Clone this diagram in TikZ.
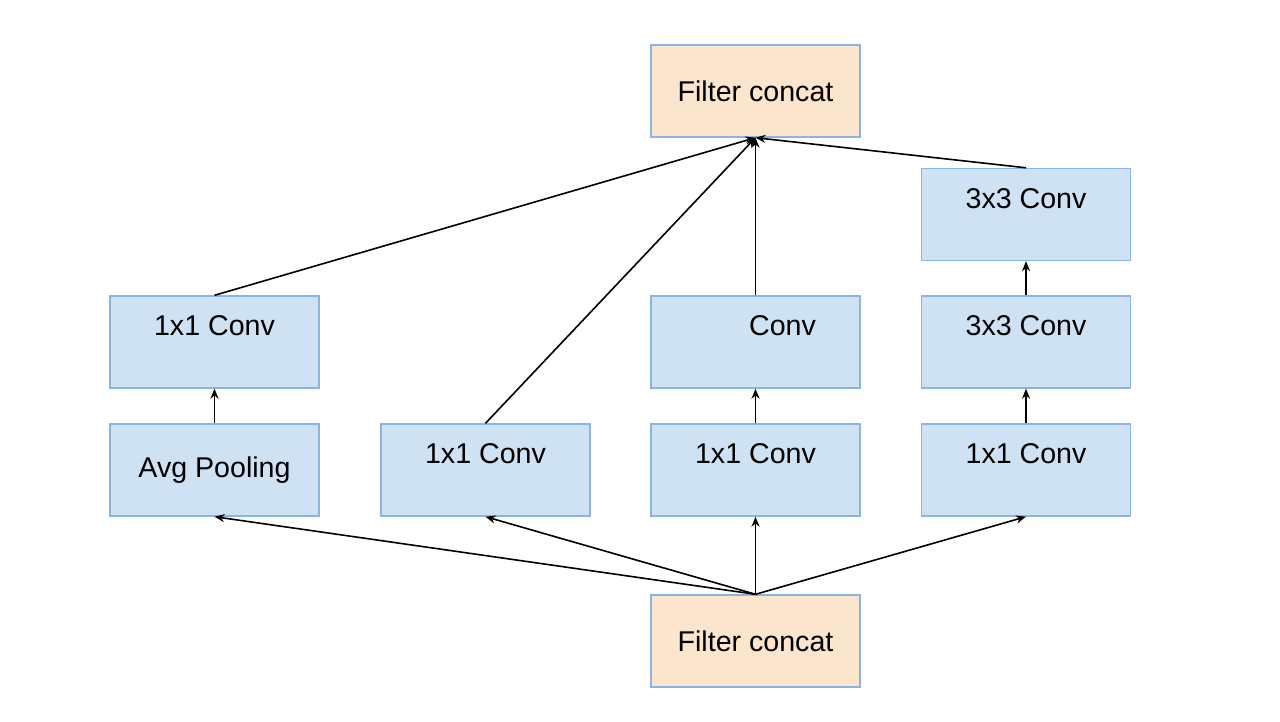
\documentclass[tikz,border=0pt]{standalone}
\usepackage{fontspec}
\setmainfont{Liberation Sans}
\usepackage{xcolor}
\usetikzlibrary{arrows.meta}

\definecolor{convblue}{HTML}{CFE2F3}
\definecolor{edgeblue}{HTML}{8DB3E2}
\definecolor{concatpeach}{HTML}{FCE5CD}

\begin{document}
\begin{tikzpicture}[x=0.5pt, y=-0.5pt,
  box/.style={rectangle, minimum width=104.5pt, minimum height=46pt, text centered, align=center, draw=edgeblue, line width=0.7pt, font=\fontsize{14.3}{16}\selectfont},
  conv/.style={box, fill=convblue},
  concat/.style={box, fill=concatpeach},
  link/.style={-{Stealth[length=5pt, width=4pt]}, line width=0.8pt}]
\useasboundingbox (0,0) rectangle (1280,722);

\node (top) [concat] at (755.5,91) {Filter concat};
\node (bottom) [concat] at (755.5,641) {Filter concat};

\node (pool) [conv] at (214.5,470) {Avg Pooling};
\node (poolconv) [conv] at (214.5,342) {1x1 Conv\\\mbox{}};

\node (single) [conv] at (485.5,470) {1x1 Conv\\\mbox{}};

\node (reduce) [conv] at (755.5,470) {1x1 Conv\\\mbox{}};
\node (mid) [conv] at (755.5,342) {\phantom{1x1} Conv\\\mbox{}};

\node (reducetwo) [conv] at (1026,470) {1x1 Conv\\\mbox{}};
\node (threea) [conv] at (1026,342) {3x3 Conv\\\mbox{}};
\node (threeb) [conv] at (1026,214.5) {3x3 Conv\\\mbox{}};

\draw[link] (bottom.north) -- (pool.south);
\draw[link] (bottom.north) -- (single.south);
\draw[link] (bottom.north) -- (reduce.south);
\draw[link] (bottom.north) -- (reducetwo.south);
\draw[link] (pool) -- (poolconv);
\draw[link] (reduce) -- (mid);
\draw[link] (reducetwo) -- (threea);
\draw[link] (threea) -- (threeb);
\draw[link] (poolconv.north) -- (top.south);
\draw[link] (single.north) -- (top.south);
\draw[link] (mid.north) -- (top.south);
\draw[link] (threeb.north) -- (top.south);

\end{tikzpicture}
\end{document}
